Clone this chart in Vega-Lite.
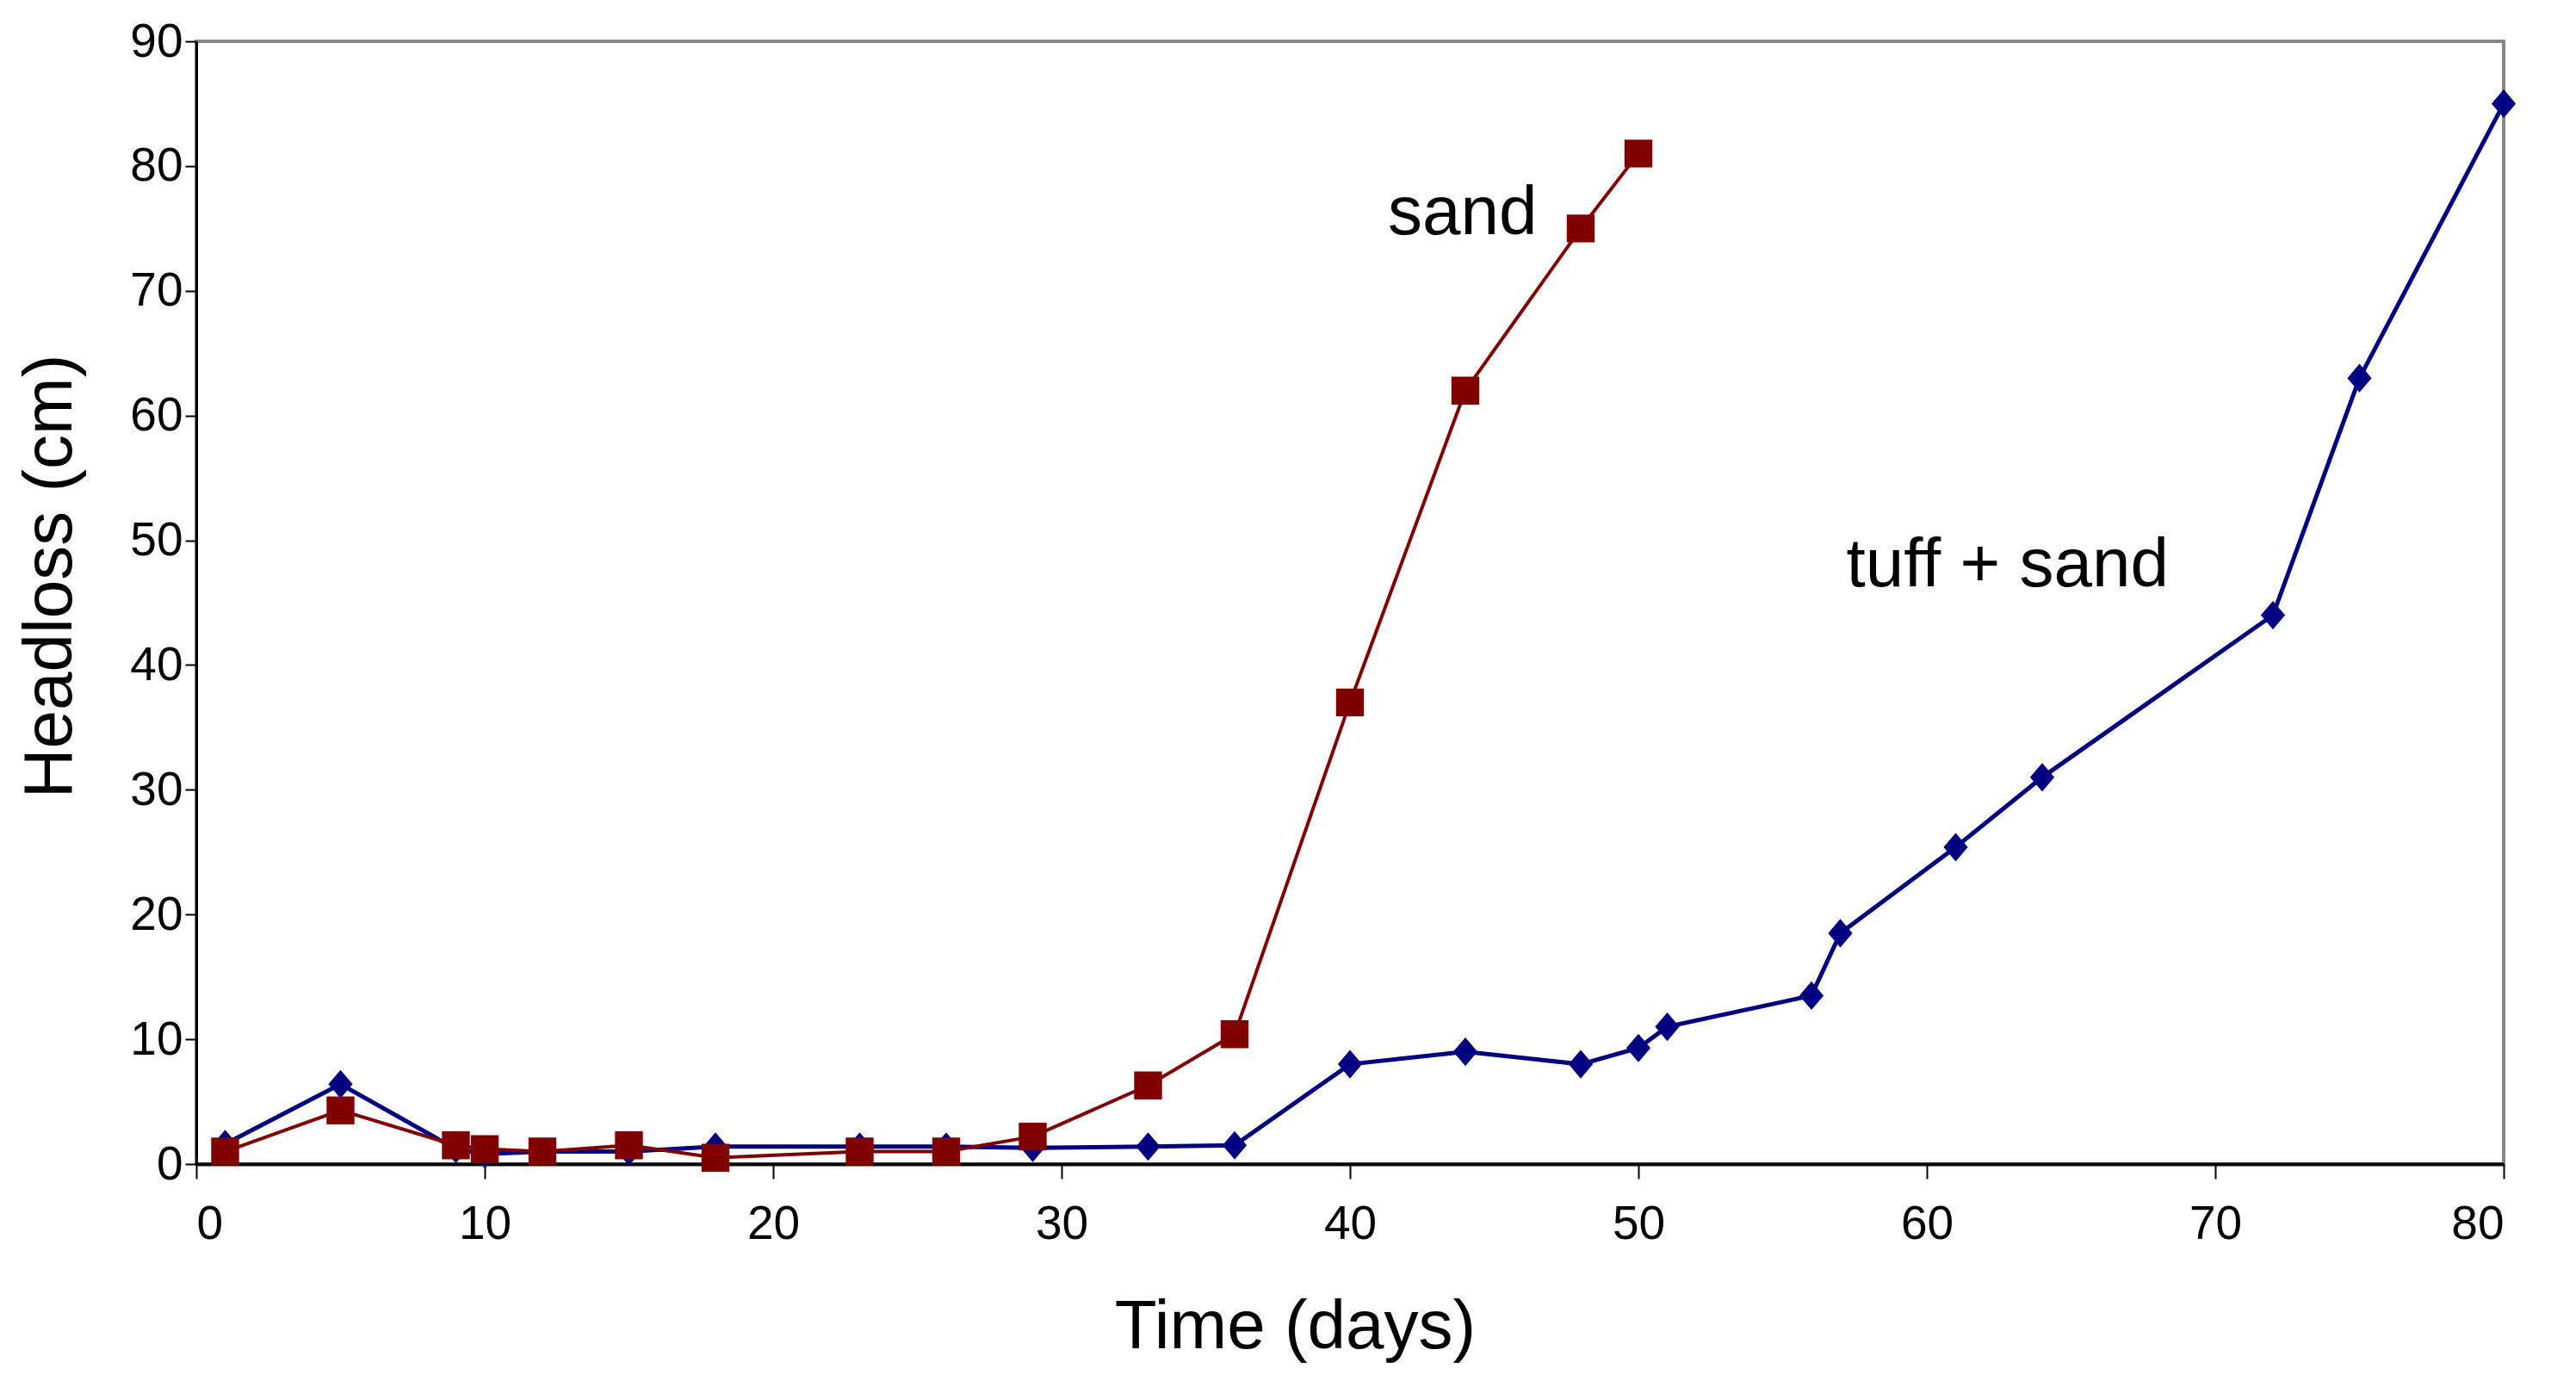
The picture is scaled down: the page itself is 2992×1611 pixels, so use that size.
{
  "$schema": "https://vega.github.io/schema/vega-lite/v6.json",
  "width": 2680,
  "height": 1304,
  "autosize": "none",
  "padding": {"left": 228, "top": 48, "right": 84, "bottom": 259},
  "background": "white",
  "config": {
    "view": {"stroke": "#888888", "strokeWidth": 4},
    "font": "Liberation Sans"
  },
  "datasets": {
    "series": [
      {"day": 1, "headloss": 1.6, "media": "tuff + sand"},
      {"day": 5, "headloss": 6.4, "media": "tuff + sand"},
      {"day": 9, "headloss": 1.2, "media": "tuff + sand"},
      {"day": 10, "headloss": 0.8, "media": "tuff + sand"},
      {"day": 12, "headloss": 1.0, "media": "tuff + sand"},
      {"day": 15, "headloss": 1.0, "media": "tuff + sand"},
      {"day": 18, "headloss": 1.4, "media": "tuff + sand"},
      {"day": 23, "headloss": 1.4, "media": "tuff + sand"},
      {"day": 26, "headloss": 1.4, "media": "tuff + sand"},
      {"day": 29, "headloss": 1.3, "media": "tuff + sand"},
      {"day": 33, "headloss": 1.4, "media": "tuff + sand"},
      {"day": 36, "headloss": 1.5, "media": "tuff + sand"},
      {"day": 40, "headloss": 8.0, "media": "tuff + sand"},
      {"day": 44, "headloss": 9.0, "media": "tuff + sand"},
      {"day": 48, "headloss": 8.0, "media": "tuff + sand"},
      {"day": 50, "headloss": 9.3, "media": "tuff + sand"},
      {"day": 51, "headloss": 11.0, "media": "tuff + sand"},
      {"day": 56, "headloss": 13.5, "media": "tuff + sand"},
      {"day": 57, "headloss": 18.5, "media": "tuff + sand"},
      {"day": 61, "headloss": 25.4, "media": "tuff + sand"},
      {"day": 64, "headloss": 31.0, "media": "tuff + sand"},
      {"day": 72, "headloss": 44.0, "media": "tuff + sand"},
      {"day": 75, "headloss": 63.0, "media": "tuff + sand"},
      {"day": 80, "headloss": 85.0, "media": "tuff + sand"},
      {"day": 1, "headloss": 1.0, "media": "sand"},
      {"day": 5, "headloss": 4.3, "media": "sand"},
      {"day": 9, "headloss": 1.5, "media": "sand"},
      {"day": 10, "headloss": 1.2, "media": "sand"},
      {"day": 12, "headloss": 1.0, "media": "sand"},
      {"day": 15, "headloss": 1.5, "media": "sand"},
      {"day": 18, "headloss": 0.5, "media": "sand"},
      {"day": 23, "headloss": 1.0, "media": "sand"},
      {"day": 26, "headloss": 1.0, "media": "sand"},
      {"day": 29, "headloss": 2.2, "media": "sand"},
      {"day": 33, "headloss": 6.3, "media": "sand"},
      {"day": 36, "headloss": 10.4, "media": "sand"},
      {"day": 40, "headloss": 37.0, "media": "sand"},
      {"day": 44, "headloss": 62.0, "media": "sand"},
      {"day": 48, "headloss": 75.0, "media": "sand"},
      {"day": 50, "headloss": 81.0, "media": "sand"}
    ],
    "labels": [
      {"day": 43.9, "headloss": 76.2, "text": "sand"},
      {"day": 62.8, "headloss": 48.0, "text": "tuff + sand"}
    ]
  },
  "encoding": {
    "x": {
      "field": "day",
      "type": "quantitative",
      "scale": {"domain": [0, 80], "nice": false, "zero": false},
      "axis": {
        "title": "Time (days)",
        "values": [0, 10, 20, 30, 40, 50, 60, 70, 80],
        "grid": false,
        "domainColor": "black",
        "domainWidth": 4,
        "tickColor": "black",
        "tickWidth": 2,
        "tickSize": 17,
        "labelPadding": 26,
        "labelDx": 19,
        "labelFontSize": 55,
        "labelColor": "black",
        "labelFont": "Liberation Sans",
        "titleFont": "Liberation Sans",
        "titleFontSize": 80,
        "titleFontWeight": "normal",
        "titleColor": "black",
        "titleX": 1276,
        "titleY": 213,
        "titleBaseline": "alphabetic",
        "titleAnchor": "middle",
        "titleAlign": "center"
      }
    },
    "y": {
      "field": "headloss",
      "type": "quantitative",
      "scale": {"domain": [0, 90], "nice": false},
      "axis": {
        "title": "Headloss (cm)",
        "values": [0, 10, 20, 30, 40, 50, 60, 70, 80, 90],
        "grid": false,
        "domainColor": "black",
        "domainWidth": 3,
        "tickColor": "black",
        "tickWidth": 2,
        "tickSize": 13,
        "labelPadding": 3,
        "labelFontSize": 55,
        "labelColor": "black",
        "labelFont": "Liberation Sans",
        "titleFont": "Liberation Sans",
        "titleFontSize": 80,
        "titleFontWeight": "normal",
        "titleColor": "black",
        "titleX": -170,
        "titleY": 621,
        "titleBaseline": "middle",
        "titleAngle": -90,
        "titleAnchor": "middle",
        "titleAlign": "center"
      }
    }
  },
  "layer": [
    {
      "data": {"name": "series"},
      "mark": {"type": "line"},
      "encoding": {
        "color": {
          "field": "media",
          "type": "nominal",
          "scale": {"domain": ["tuff + sand", "sand"], "range": ["#000080", "#800000"]},
          "legend": null
        },
        "strokeWidth": {
          "field": "media",
          "type": "nominal",
          "scale": {"domain": ["tuff + sand", "sand"], "range": [5, 4]},
          "legend": null
        },
        "detail": {"field": "media"}
      }
    },
    {
      "data": {"name": "series"},
      "mark": {"type": "point", "filled": true, "opacity": 1},
      "encoding": {
        "color": {
          "field": "media",
          "type": "nominal",
          "scale": {"domain": ["tuff + sand", "sand"], "range": ["#000080", "#800000"]},
          "legend": null
        },
        "shape": {
          "field": "media",
          "type": "nominal",
          "scale": {"domain": ["tuff + sand", "sand"], "range": ["M0,-1L0.85,0L0,1L-0.85,0Z", "square"]},
          "legend": null
        },
        "size": {
          "field": "media",
          "type": "nominal",
          "scale": {"domain": ["tuff + sand", "sand"], "range": [1100, 1050]},
          "legend": null
        }
      }
    },
    {
      "data": {"name": "labels"},
      "mark": {"type": "text", "fontSize": 80, "font": "Liberation Sans", "color": "black", "baseline": "middle", "align": "center"},
      "encoding": {
        "text": {"field": "text", "type": "nominal"}
      }
    }
  ]
}
